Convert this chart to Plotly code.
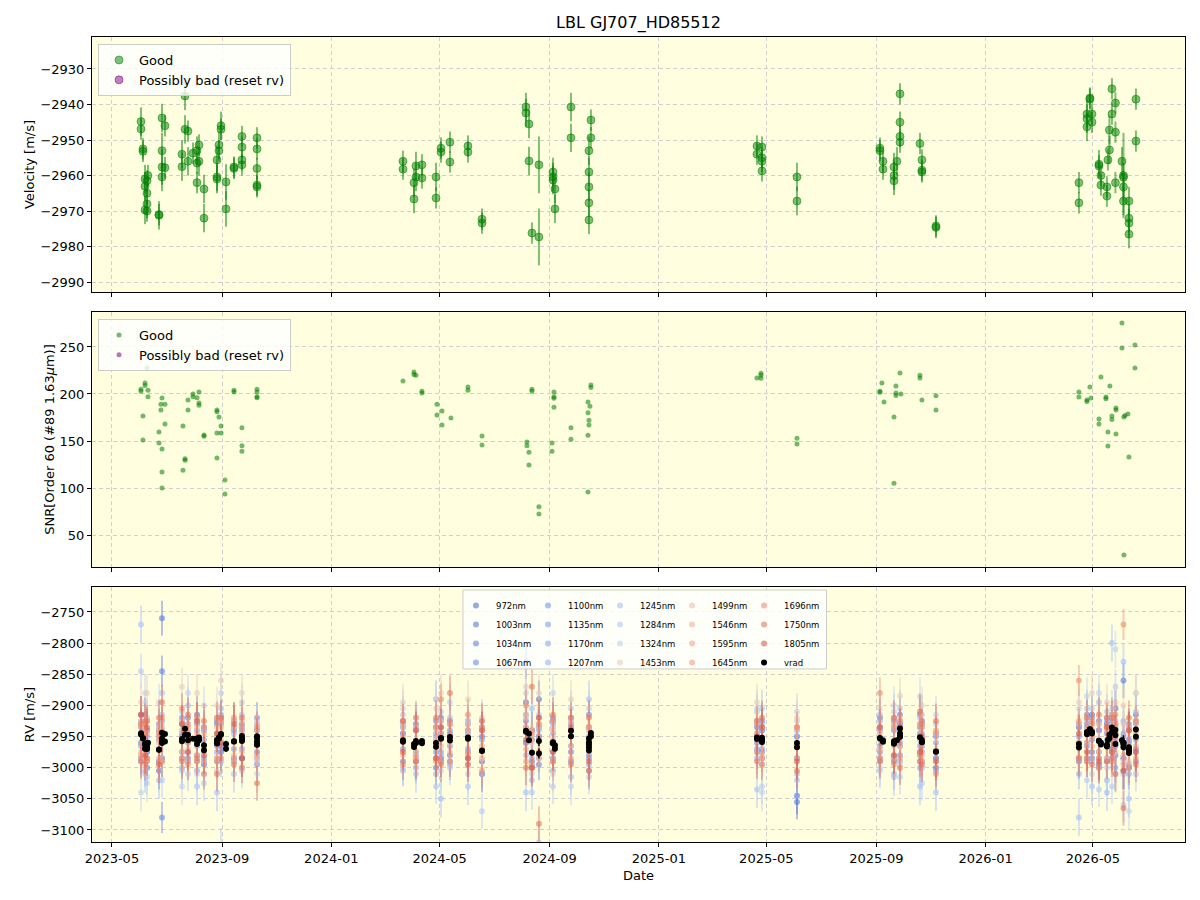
import numpy as np
import pandas as pd
import plotly.graph_objects as go
from plotly.subplots import make_subplots

# ---------------- data ----------------
vel_mjd = [60097.4, 60097.4, 60099.6, 60099.6, 60101.9, 60101.9, 60101.9, 60104.1, 60104.1, 60104.1, 60104.1, 60105.2,
           60117.5, 60117.5, 60120.9, 60120.9, 60120.9, 60120.9, 60124.2, 60124.2, 60143.2, 60143.2, 60146.6, 60146.6,
           60149.9, 60149.9, 60155.5, 60160.0, 60160.0, 60160.0, 60162.2, 60162.2, 60167.8, 60167.8, 60182.3, 60182.3,
           60182.3, 60184.5, 60184.5, 60186.8, 60186.8, 60192.4, 60192.4, 60201.3, 60201.3, 60210.2, 60210.2, 60210.2,
           60210.2, 60227.0, 60227.0, 60227.0, 60227.0, 60227.0,
           60390.1, 60390.1, 60402.4, 60402.4, 60404.6, 60404.6, 60411.3, 60411.3, 60427.0, 60427.0, 60432.6, 60432.6,
           60442.6, 60442.6, 60462.7, 60462.7, 60478.4, 60478.4, 60527.5, 60527.5, 60530.9, 60530.9, 60534.2, 60542.0,
           60542.0, 60557.7, 60557.7, 60557.7, 60559.9, 60559.9, 60577.8, 60577.8, 60597.9, 60597.9, 60597.9, 60597.9,
           60597.9, 60600.1, 60600.1,
           60785.6, 60785.6, 60791.2, 60791.2, 60791.2, 60791.2, 60830.3, 60830.3,
           60923.0, 60923.0, 60926.4, 60926.4, 60938.7, 60938.7, 60938.7, 60942.0, 60945.4, 60945.4, 60945.4, 60945.4,
           60967.7, 60969.9, 60969.9, 60969.9, 60985.6, 60985.6,
           61145.3, 61145.3, 61154.3, 61154.3, 61154.3, 61157.6, 61157.6, 61159.9, 61159.9, 61167.7, 61167.7, 61169.9,
           61169.9, 61176.6, 61176.6, 61177.7, 61179.4, 61179.4, 61182.2, 61182.2, 61186.1, 61186.1, 61186.1, 61193.4,
           61195.1, 61195.1, 61195.1, 61195.1, 61201.2, 61201.2, 61201.2, 61201.2, 61209.0, 61209.0]
vel = [-2944.8, -2946.9, -2952.5, -2953.2, -2961.0, -2963.0, -2969.7, -2965.0, -2968.0, -2970.0, -2961.5, -2960.0,
       -2971.2, -2971.0, -2943.8, -2953.0, -2957.6, -2960.4, -2946.0, -2957.8, -2954.0, -2957.5, -2937.6, -2947.0,
       -2947.5, -2956.0, -2953.7, -2953.0, -2962.0, -2956.5, -2951.4, -2956.0, -2963.8, -2972.0, -2955.6, -2960.4,
       -2961.0, -2951.4, -2953.0, -2946.0, -2947.0, -2961.8, -2969.4, -2957.6, -2958.0, -2949.0, -2952.0, -2955.6,
       -2957.0, -2949.4, -2952.5, -2958.0, -2962.7, -2963.2,
       -2956.0, -2958.2, -2962.0, -2966.6, -2957.3, -2960.4, -2957.0, -2960.7, -2960.4, -2966.3, -2952.3, -2953.4,
       -2950.6, -2956.2, -2951.7, -2953.4, -2972.3, -2973.4, -2940.7, -2942.4, -2945.5, -2955.9, -2976.2, -2957.0,
       -2977.3, -2959.0, -2960.4, -2961.3, -2963.8, -2969.4, -2940.7, -2949.4, -2953.0, -2959.0, -2963.2, -2967.7,
       -2972.5, -2944.4, -2949.4,
       -2951.7, -2954.0, -2952.0, -2955.0, -2956.0, -2958.7, -2960.4, -2967.2,
       -2952.3, -2953.0, -2956.0, -2958.2, -2957.6, -2960.0, -2961.5, -2956.0, -2937.0, -2945.0, -2949.0, -2950.6,
       -2951.0, -2955.6, -2958.5, -2959.0, -2974.2, -2974.6,
       -2962.0, -2967.7, -2942.7, -2944.0, -2946.3, -2938.2, -2938.5, -2942.7, -2945.0, -2956.8, -2957.3, -2960.0,
       -2962.7, -2963.2, -2965.8, -2955.6, -2952.8, -2947.2, -2935.6, -2942.7, -2939.6, -2947.8, -2962.0, -2956.0,
       -2960.0, -2960.5, -2963.2, -2967.2, -2967.2, -2972.0, -2973.4, -2976.5, -2938.5, -2950.3]
vel_err = [4, 3, 3, 3, 4, 4, 4, 3, 4, 3, 3, 3,
           4, 3, 4, 5, 5, 4, 3, 3, 4, 4, 4, 4,
           3, 4, 3, 4, 3, 3, 3, 4, 4, 4, 4, 4,
           4, 4, 3, 4, 3, 5, 5, 3, 3, 3, 3, 3,
           3, 3, 3, 3, 3, 3,
           3, 3, 4, 4, 4, 4, 3, 3, 4, 3, 3, 3,
           3, 3, 3, 3, 3, 3, 4, 4, 4, 4, 3, 8,
           8, 4, 4, 4, 4, 4, 4, 4, 4, 4, 4, 4,
           4, 3, 3,
           3, 3, 3, 3, 3, 3, 4, 4,
           3, 3, 3, 3, 4, 4, 4, 4, 3, 3, 3, 3,
           3, 3, 3, 3, 3, 3,
           3, 3, 4, 4, 4, 3, 3, 3, 3, 4, 3, 3,
           3, 3, 3, 3, 4, 4, 3, 3, 3, 3, 3, 4,
           12, 4, 4, 4, 4, 4, 4, 4, 3, 3]

snr_mjd = [60097.4, 60097.4, 60099.6, 60099.6, 60101.9, 60101.9, 60104.1, 60105.2, 60105.2, 60117.5, 60117.5, 60119.7,
           60119.7, 60120.9, 60120.9, 60120.9, 60120.9, 60124.2, 60124.2, 60144.3, 60144.3, 60146.6, 60146.6, 60149.9,
           60149.9, 60155.5, 60155.5, 60160.0, 60162.2, 60162.2, 60162.2, 60167.8, 60167.8, 60182.3, 60182.3, 60182.3,
           60182.3, 60184.5, 60186.8, 60186.8, 60191.2, 60191.2, 60201.3, 60201.3, 60210.2, 60210.2, 60210.2, 60227.0,
           60227.0, 60227.0, 60227.0,
           60390.1, 60402.4, 60402.4, 60404.6, 60411.3, 60411.3, 60428.1, 60428.1, 60433.7, 60433.7, 60443.7, 60462.7,
           60462.7, 60478.4, 60478.4, 60528.6, 60528.6, 60530.9, 60530.9, 60534.2, 60534.2, 60542.0, 60542.0, 60556.6,
           60556.6, 60558.8, 60558.8, 60558.8, 60558.8, 60577.8, 60577.8, 60596.8, 60596.8, 60596.8, 60596.8, 60597.9,
           60597.9, 60599.0, 60600.1, 60600.1,
           60785.6, 60790.1, 60790.1, 60790.1, 60830.3, 60830.3,
           60923.0, 60923.0, 60925.2, 60927.5, 60938.7, 60938.7, 60940.9, 60940.9, 60940.9, 60945.4, 60946.5, 60967.7,
           60967.7, 60969.9, 60985.6, 60985.6,
           61145.3, 61145.3, 61154.3, 61154.3, 61157.6, 61158.7, 61167.7, 61167.7, 61169.9, 61175.5, 61175.5, 61177.7,
           61177.7, 61179.9, 61182.2, 61182.2, 61186.7, 61186.7, 61186.7, 61193.4, 61193.4, 61195.6, 61195.6, 61196.7,
           61200.1, 61201.2, 61207.9, 61207.9]
snr = [203, 205, 176.6, 151, 211.7, 209, 227.7, 204, 197, 159.6, 148, 189,
       183, 195.7, 141.5, 117, 100, 189, 168, 166, 119, 131, 129.5, 193.6,
       183, 200, 197, 196, 202, 190.4, 188, 156.4, 155, 183, 181, 158.5,
       132, 175.5, 166, 158.5, 108.5, 93.6, 204, 202, 164, 145, 139, 205,
       202, 197, 196,
       213.8, 223.4, 220.6, 220, 203, 201, 189, 177.7, 182, 167, 174.5, 207.4,
       204, 155.3, 145.7, 149, 145, 138, 124.5, 205, 203, 80, 72.3, 148,
       139, 202, 197, 195.5, 186, 164, 152, 191.5, 180, 156, 95.7, 172,
       167, 187, 209.6, 207,
       217, 220, 222, 216.7, 153, 146.8,
       203, 201.8, 211.7, 191.5, 175.5, 105, 208.5, 201, 198.5, 222.3, 200, 220,
       217, 193.6, 198, 183,
       202, 196.9, 193.6, 192, 207.4, 195.7, 173.4, 168, 218, 196.8, 195, 159.6,
       144.7, 208.5, 176.6, 173, 185, 183, 157.4, 275.5, 249, 175.5, 28.7, 177,
       178.7, 133, 252, 227.7]

band_mjd = [60097.4, 60101.9, 60104.1, 60117.5, 60120.9, 60143.2, 60149.9, 60160.0, 60167.8, 60182.3, 60186.8, 60201.3,
            60210.2, 60227.0,
            60390.1, 60404.6, 60427.0, 60432.6, 60442.6, 60462.7, 60478.4, 60527.5, 60534.2, 60542.0, 60557.7, 60577.8,
            60597.9,
            60785.6, 60791.2, 60830.3,
            60923.0, 60938.7, 60945.4, 60967.7, 60969.9, 60985.6,
            61145.3, 61154.3, 61159.9, 61167.7, 61176.6, 61182.2, 61186.1, 61195.1, 61201.2, 61209.0]

band_names = ["972nm", "1003nm", "1034nm", "1067nm", "1100nm", "1135nm", "1170nm", "1207nm", "1245nm", "1284nm",
              "1324nm", "1453nm", "1499nm", "1546nm", "1595nm", "1645nm", "1696nm", "1750nm", "1805nm"]
band_wave = [972, 1003, 1034, 1067, 1100, 1135, 1170, 1207, 1245, 1284, 1324, 1453, 1499, 1546, 1595, 1645, 1696, 1750, 1805]
band_err = [30, 28, 25, 25, 22, 22, 25, 25, 30, 28, 30, 30, 20, 20, 20, 22, 25, 28, 30]

rv_972 = [-2915, -2990, -2940, -3005, -2985, -2930, -2990, -2915, -2995, -2930, -2975, -2925, -2985, -2940,
          -2925, -2990, -2935, -2985, -2925, -2975, -3010, -2895, -2940, -2890, -2990, -2920, -3005,
          -2930, -2985, -3045,
          -2920, -2990, -2915, -2980, -2925, -3000,
          -2935, -2985, -2915, -2995, -2930, -2970, -2905, -3005, -2940, -2915]
rv_1003 = [-2960, -2915, -3000, -2940, -2760, -2985, -2920, -2980, -2935, -2990, -2920, -2985, -2930, -2975,
           -2990, -2930, -3000, -2920, -2980, -2930, -2950, -2830, -2990, -2935, -2925, -2975, -2935,
           -2975, -2925, -3055,
           -2985, -2925, -2965, -2915, -2990, -2945,
           -2990, -2915, -2975, -2925, -2990, -2915, -2980, -2860, -3000, -2970]
rv_1034 = [-2930, -2985, -2925, -2990, -2845, -2950, -2985, -2930, -2990, -2925, -2965, -2940, -2985, -2920,
           -2945, -2975, -2925, -2990, -2945, -2985, -2935, -2925, -2955, -2995, -2920, -2990, -2915,
           -2935, -2975, -2950,
           -2935, -2985, -2930, -2990, -2935, -2985,
           -2930, -2965, -2985, -2940, -2920, -2985, -2930, -2985, -2955, -2925]
rv_1067 = [-2985, -2940, -2975, -2930, -3080, -2920, -2945, -2990, -2940, -2965, -2925, -2990, -2950, -2995,
           -2935, -2960, -2985, -2945, -2990, -2940, -2990, -2960, -2995, -2950, -2985, -2940, -2980,
           -2960, -2940, -2985,
           -2975, -2940, -2980, -2945, -2965, -2950,
           -2960, -2930, -2955, -2985, -2945, -2940, -2965, -2950, -2930, -2990]
rv_1100 = [-2935, -2970, -2990, -2955, -2925, -2975, -2930, -2965, -2985, -2945, -2930, -2970, -2940, -2960,
           -2970, -2940, -2975, -2935, -2965, -2945, -2990, -2915, -3000, -2950, -2975, -2930, -2985,
           -2945, -2970, -2985,
           -2965, -2935, -2960, -2935, -2975, -2985,
           -2985, -2935, -2920, -2975, -2985, -2925, -2955, -2985, -2995, -2930]
rv_1135 = [-2965, -2945, -2975, -2990, -2940, -2945, -2975, -2940, -2955, -2985, -2965, -2935, -2970, -2930,
           -2945, -2980, -2950, -2975, -2940, -2970, -2955, -2960, -2945, -2985, -2945, -2965, -2950,
           -2970, -2940, -2950,
           -2940, -2980, -2930, -2965, -2945, -2960,
           -2950, -2960, -2945, -2940, -2955, -2955, -2935, -2945, -2960, -2955]
rv_1170 = [-2925, -3005, -2950, -2945, -2990, -2925, -2960, -3005, -2935, -2975, -2915, -2990, -2935, -2985,
           -2930, -3000, -2945, -2925, -2995, -2925, -3010, -2935, -2985, -2920, -3005, -2925, -2995,
           -2925, -2995, -2940,
           -2990, -2920, -2990, -3000, -2930, -3005,
           -2935, -2990, -2930, -3000, -2925, -2975, -3000, -2925, -3010, -2975]
rv_1207 = [-2990, -2935, -3000, -2935, -2915, -3000, -2940, -2925, -3010, -2930, -2990, -2945, -3000, -2940,
           -3005, -2935, -3010, -2980, -2930, -2995, -2940, -2980, -3020, -2940, -2930, -2990, -2940,
           -2985, -2930, -3010,
           -2925, -3010, -2925, -2935, -3000, -2945,
           -3010, -2925, -2990, -2930, -3020, -2935, -2925, -3010, -2960, -2990]
rv_1245 = [-2770, -3010, -2920, -3020, -2880, -3005, -2900, -3030, -2940, -3040, -2905, -3010, -2915, -2990,
           -2915, -3010, -2890, -3050, -2920, -3030, -2925, -3040, -2905, -3120, -2935, -3015, -2890,
           -3035, -2905, -3020,
           -2915, -3015, -2905, -3030, -2915, -3040,
           -3080, -2905, -3030, -2895, -3040, -2800, -3010, -2830, -3050, -2910]
rv_1284 = [-2845, -2985, -3015, -2935, -3020, -2910, -3010, -2925, -3025, -2920, -3125, -2935, -3005, -2925,
           -3000, -2920, -3030, -2910, -3000, -2925, -3070, -2920, -3040, -2915, -3030, -2905, -3015,
           -2910, -3030, -2925,
           -3005, -2910, -3015, -2920, -3025, -2930,
           -2960, -3020, -2905, -3035, -2910, -3030, -2870, -3060, -2935, -3010]
rv_1324 = [-3040, -2880, -3025, -2895, -2960, -3030, -2880, -3010, -2900, -3005, -2880, -2990, -2895, -3010,
           -2905, -2960, -2890, -3005, -2895, -3010, -2920, -2880, -3010, -2935, -2880, -3030, -2905,
           -2905, -3040, -2910,
           -3000, -2900, -2995, -2885, -2990, -2915,
           -2905, -2885, -3010, -2880, -3000, -2905, -2810, -2990, -3070, -2880]
rv_1453 = [-2895, -2960, -2880, -2995, -2930, -2870, -2990, -2880, -2975, -2900, -2860, -2925, -2880, -2930,
           -2895, -2975, -2905, -2880, -2960, -2890, -2985, -2870, -2960, -2880, -3010, -2890, -2960,
           -2895, -2985, -2920,
           -2905, -2955, -2885, -2980, -2900, -2970,
           -2895, -2975, -2880, -2960, -2895, -2975, -2895, -2900, -2970, -2880]
rv_1499 = [-2930, -2985, -2925, -2960, -2990, -2925, -2970, -2935, -2990, -2935, -2925, -2980, -2925, -2985,
           -2935, -2985, -2940, -2925, -2975, -2930, -2985, -2915, -2995, -2930, -2990, -2925, -2975,
           -2930, -2980, -2935,
           -2935, -2985, -2920, -2975, -2935, -2990,
           -2930, -2920, -2965, -2930, -2985, -2915, -2975, -2930, -2990, -2925]
rv_1546 = [-2975, -2935, -2985, -2940, -2935, -2975, -2930, -2980, -2945, -2985, -2955, -2935, -2975, -2940,
           -2980, -2935, -2985, -2965, -2930, -2975, -2940, -2970, -2945, -2985, -2940, -2965, -2935,
           -2975, -2935, -2985,
           -2970, -2935, -2965, -2930, -2980, -2945,
           -2985, -2960, -2930, -2975, -2940, -2960, -2930, -2980, -2940, -2965]
rv_1595 = [-2935, -2960, -2945, -2985, -2950, -2940, -2960, -2945, -2965, -2950, -2935, -2960, -2945, -2955,
           -2950, -2960, -2955, -2945, -2950, -2940, -2965, -2935, -2975, -2950, -2955, -2940, -2960,
           -2945, -2960, -2965,
           -2945, -2965, -2940, -2955, -2960, -2975,
           -2960, -2940, -2950, -2955, -2965, -2940, -2950, -2960, -2975, -2945]
rv_1645 = [-2980, -2930, -2990, -2945, -2920, -2985, -2935, -2990, -2935, -2990, -2925, -2985, -2935, -2980,
           -2925, -2985, -2935, -2990, -2930, -2980, -2935, -2990, -2940, -2975, -2925, -2985, -2935,
           -2925, -2985, -2935,
           -2985, -2930, -2985, -2930, -2990, -2940,
           -2925, -2985, -2930, -2985, -2935, -2985, -2930, -2995, -2935, -2985]
rv_1696 = [-2930, -2995, -2925, -2950, -2990, -2905, -2995, -2920, -3010, -2920, -2985, -2920, -3000, -2935,
           -2995, -2920, -2990, -2890, -2990, -2915, -3005, -2900, -3000, -2930, -2990, -2920, -3005,
           -2925, -2995, -2935,
           -2880, -2995, -2925, -2990, -2930, -3010,
           -2860, -2990, -2925, -3000, -2920, -2990, -2915, -2770, -3000, -2925]
rv_1750 = [-2990, -2925, -2985, -2920, -2895, -2990, -2915, -2985, -2925, -3010, -2920, -2995, -2920, -3025,
           -2925, -2990, -2920, -2995, -2880, -2995, -2925, -3000, -2870, -3090, -2915, -2995, -2920,
           -2990, -2920, -3005,
           -2990, -2920, -3000, -2910, -2995, -2925,
           -2985, -2920, -2995, -2915, -2990, -2920, -3010, -3065, -2920, -2995]
rv_1805 = [-2915, -2980, -2935, -2995, -2945, -2930, -2975, -2925, -2980, -2945, -2960, -2930, -2985, -2950,
           -2975, -2940, -2985, -2935, -2950, -2985, -2940, -2955, -3000, -2920, -2975, -2935, -2990,
           -2950, -2935, -2990,
           -2935, -2980, -2935, -2975, -2950, -2990,
           -2945, -2975, -2940, -2990, -2935, -2975, -2945, -3005, -2940, -2975]

band_rvs = [rv_972, rv_1003, rv_1034, rv_1067, rv_1100, rv_1135, rv_1170, rv_1207, rv_1245, rv_1284, rv_1324,
            rv_1453, rv_1499, rv_1546, rv_1595, rv_1645, rv_1696, rv_1750, rv_1805]


def mjd_to_dt(m):
    return pd.to_datetime(np.asarray(m, dtype=float) - 40587.0, unit="D")


# coolwarm colormap (control points)
CW = [(0.0, (59, 76, 192)), (0.125, (90, 120, 226)), (0.25, (124, 159, 249)), (0.375, (170, 199, 253)),
      (0.5, (221, 220, 220)), (0.625, (244, 182, 154)), (0.75, (244, 154, 123)), (0.875, (222, 96, 77)),
      (1.0, (180, 4, 38))]


def coolwarm(t, a):
    for (t0, c0), (t1, c1) in zip(CW[:-1], CW[1:]):
        if t0 <= t <= t1:
            f = (t - t0) / (t1 - t0)
            c = [round(c0[i] + f * (c1[i] - c0[i])) for i in range(3)]
            return f"rgba({c[0]},{c[1]},{c[2]},{a})"
    return f"rgba(180,4,38,{a})"


FONT = "DejaVu Sans"
GREEN = "rgba(0,128,0,0.5)"

fig = make_subplots(rows=3, cols=1, shared_xaxes=True, vertical_spacing=0.0248)

vel_dt = mjd_to_dt(vel_mjd)

# top panel
fig.add_trace(go.Scatter(x=vel_dt, y=vel, mode="markers", name="Good",
                         marker=dict(color=GREEN, size=8, line=dict(color=GREEN, width=1)),
                         error_y=dict(type="data", array=vel_err, color=GREEN, thickness=2, width=0),
                         legend="legend"), row=1, col=1)
fig.add_trace(go.Scatter(x=[None], y=[None], mode="markers", name="Possibly bad (reset rv)",
                         marker=dict(color="rgba(128,0,128,0.5)", size=8, line=dict(color="rgba(128,0,128,0.5)", width=1)),
                         legend="legend"), row=1, col=1)

# middle panel
fig.add_trace(go.Scatter(x=mjd_to_dt(snr_mjd), y=snr, mode="markers", name="Good",
                         marker=dict(color="rgba(0,128,0,0.55)", size=5),
                         legend="legend2"), row=2, col=1)
fig.add_trace(go.Scatter(x=[None], y=[None], mode="markers", name="Possibly bad (reset rv)",
                         marker=dict(color="rgba(128,0,128,0.55)", size=5),
                         legend="legend2"), row=2, col=1)

# bottom panel
band_dt = mjd_to_dt(band_mjd)
wmin, wmax = band_wave[0], band_wave[-1]
for i, (nm, w, rv, er) in enumerate(zip(band_names, band_wave, band_rvs, band_err)):
    t = 0.1 + 0.78 * (w - wmin) / (wmax - wmin)
    col = coolwarm(t, 0.6)
    ecol = coolwarm(t, 0.45)
    fig.add_trace(go.Scatter(x=band_dt, y=rv, mode="markers", name=nm,
                             marker=dict(color=col, size=6),
                             error_y=dict(type="data", array=[er] * len(rv), color=ecol, thickness=2, width=0),
                             legend=f"legend{3 + i // 4}"), row=3, col=1)
fig.add_trace(go.Scatter(x=vel_dt, y=vel, mode="markers", name="vrad",
                         marker=dict(color="black", size=6),
                         error_y=dict(type="data", array=vel_err, color="black", thickness=1.5, width=0),
                         legend="legend7"), row=3, col=1)

xr = ["2023-04-08 16:00", "2026-08-11 20:00"]
axis_common = dict(showline=True, mirror=True, linecolor="black", linewidth=1, ticks="outside", ticklen=4,
                   tickwidth=1, tickcolor="black", showgrid=True, gridcolor="#d0d0d0", griddash="4px,3px",
                   gridwidth=1, zeroline=False, tickfont=dict(family=FONT, size=13, color="black"))
for r in (1, 2, 3):
    fig.update_xaxes(range=xr, dtick="M4", tick0="2023-01-01", tickformat="%Y-%m", row=r, col=1, **axis_common)
fig.update_xaxes(showticklabels=False, row=1, col=1)
fig.update_xaxes(showticklabels=False, row=2, col=1)
fig.update_xaxes(title=dict(text="Date", font=dict(family=FONT, size=13, color="black"), standoff=6), row=3, col=1)

fig.update_yaxes(range=[-2992.8, -2921.0], dtick=10, row=1, col=1, **axis_common,
                 title=dict(text="Velocity [m/s]", font=dict(family=FONT, size=13, color="black"), standoff=2))
fig.update_yaxes(range=[16, 287.2], dtick=50, row=2, col=1, **axis_common,
                 title=dict(text="SNR[Order 60 (#89 1.63<i>μ</i>m)]", font=dict(family=FONT, size=13, color="black"),
                            standoff=2))
fig.update_yaxes(range=[-3119.3, -2709.9], dtick=50, row=3, col=1, **axis_common,
                 title=dict(text="RV [m/s]", font=dict(family=FONT, size=13, color="black"), standoff=2))

# domains
fig.update_layout(
    yaxis=dict(domain=[0.6832, 1.0]),
    yaxis2=dict(domain=[0.3416, 0.6584]),
    yaxis3=dict(domain=[0.0, 0.3168]),
)

big_leg = dict(xanchor="left", yanchor="top", bgcolor="rgba(255,255,255,0.8)", bordercolor="#cccccc",
               borderwidth=1, font=dict(family=FONT, size=13, color="black"), tracegroupgap=0)
small_leg = dict(xanchor="left", yanchor="top", bgcolor="rgba(0,0,0,0)", borderwidth=0,
                 font=dict(family=FONT, size=8.5, color="black"), tracegroupgap=0, itemwidth=30)
col_x = [0.333, 0.3989, 0.4648, 0.5307, 0.5966]
legends = {f"legend{3 + k}": dict(x=col_x[k], y=0.3118, **small_leg) for k in range(5)}

fig.update_layout(
    width=1200, height=900,
    margin=dict(l=92, r=15, t=37, b=58),
    paper_bgcolor="white",
    plot_bgcolor="lightyellow",
    font=dict(family=FONT, size=13, color="black"),
    title=dict(text="LBL GJ707_HD85512", x=0.5, xref="paper", y=1 - 22 / 900, yref="container",
               yanchor="middle", xanchor="center", font=dict(family=FONT, size=16, color="black")),
    legend=dict(x=0.0055, y=0.9913, **big_leg),
    legend2=dict(x=0.0055, y=0.6497, **big_leg),
    **legends,
    shapes=[dict(type="rect", xref="paper", yref="paper", x0=0.3394, x1=0.672, y0=0.215, y1=0.3130,
                 fillcolor="rgba(255,255,255,0.8)", line=dict(color="#cccccc", width=1), layer="above")],
)

fig.write_html("out.html")
